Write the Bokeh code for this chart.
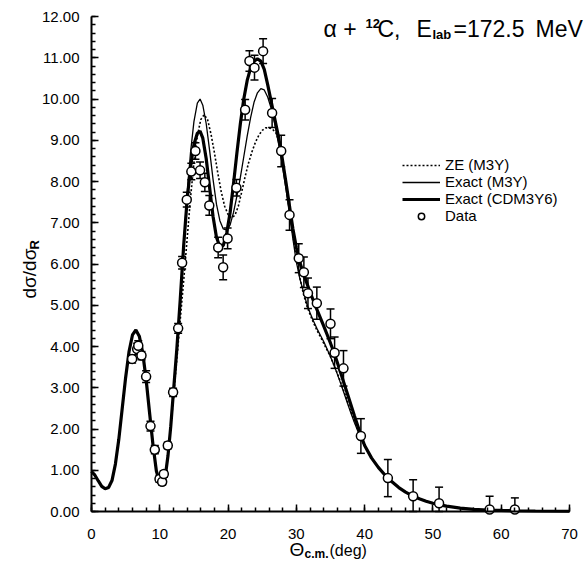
import numpy as np
from bokeh.plotting import figure
from bokeh.models import (Range1d, SingleIntervalTicker, PrintfTickFormatter, Whisker,
                          ColumnDataSource, Label, TeeHead)
from bokeh.embed import file_html
from bokeh.resources import INLINE

# ---------------- data ----------------
shared_angle = [0.0, 0.5, 1.0, 1.5, 2.0, 2.5, 3.0, 3.5, 4.0, 4.5, 5.0, 5.5, 6.0, 6.5, 7.0,
                7.5, 8.0, 8.5, 9.0, 9.5, 10.0, 10.4, 10.8, 11.2, 11.6]
shared_value = [0.97, 0.88, 0.74, 0.61, 0.55, 0.58, 0.75, 1.15, 1.75, 2.50, 3.25, 3.88, 4.28,
                4.40, 4.25, 3.85, 3.20, 2.40, 1.62, 0.98, 0.70, 0.66, 0.85, 1.35, 2.05]

tail_angle = [41.0, 42.0, 43.0, 44.0, 45.0, 46.0, 47.0, 48.0, 49.0, 50.0, 51.0, 52.0, 54.0,
              56.0, 58.0, 60.0, 62.0, 65.0, 70.0]
tail_value = [1.30, 1.07, 0.88, 0.72, 0.58, 0.47, 0.38, 0.31, 0.25, 0.20, 0.16, 0.13, 0.08,
              0.05, 0.035, 0.025, 0.018, 0.012, 0.006]

cdm_angle = [12.0, 12.5, 13.0, 13.5, 14.0, 14.5, 15.0, 15.5, 15.9, 16.3, 16.8, 17.3, 17.8,
             18.3, 18.8, 19.3, 19.8, 20.3, 20.8, 21.3, 21.8, 22.3, 22.8, 23.3, 23.8, 24.3,
             24.8, 25.3, 25.8, 26.3, 26.8, 27.3, 27.8, 28.5, 29.0, 29.5, 30.0, 30.5, 31.0,
             31.5, 32.0, 32.5, 33.0, 33.5, 34.0, 34.5, 35.0, 35.5, 36.0, 36.5, 37.0, 37.5,
             38.0, 38.5, 39.0, 39.5, 40.0]
cdm_value = [2.90, 3.95, 5.15, 6.45, 7.55, 8.35, 8.90, 9.17, 9.22, 9.05, 8.55, 7.85, 7.15,
             6.65, 6.42, 6.45, 6.75, 7.25, 7.95, 8.70, 9.40, 10.00, 10.45, 10.75, 10.92, 10.97,
             10.92, 10.72, 10.35, 9.95, 9.55, 9.15, 8.70, 7.95, 7.40, 6.85, 6.40, 6.05, 5.78,
             5.55, 5.32, 5.11, 4.90, 4.70, 4.50, 4.29, 4.08, 3.86, 3.61, 3.36, 3.10, 2.84,
             2.58, 2.32, 2.07, 1.82, 1.60]

m3y_angle = [12.0, 12.5, 13.0, 13.5, 14.0, 14.5, 15.0, 15.5, 15.9, 16.3, 16.8, 17.3, 17.8,
             18.3, 18.8, 19.3, 19.8, 20.3, 20.8, 21.3, 21.8, 22.3, 22.8, 23.3, 23.8, 24.3,
             24.8, 25.3, 25.8, 26.3, 26.8, 27.3, 27.8, 28.5, 29.0, 29.5, 30.0, 30.5, 31.0,
             31.5, 32.0, 32.5, 33.0, 33.5, 34.0, 34.5, 35.0, 35.5, 36.0, 36.5, 37.0, 37.5,
             38.0, 38.5, 39.0, 39.5, 40.0]
m3y_value = [2.90, 3.95, 5.15, 6.50, 7.70, 8.70, 9.45, 9.90, 10.00, 9.85, 9.40, 8.75, 8.05,
             7.45, 7.05, 6.85, 6.82, 6.95, 7.25, 7.65, 8.10, 8.60, 9.10, 9.55, 9.92, 10.15,
             10.25, 10.22, 10.05, 9.78, 9.42, 9.00, 8.55, 7.80, 7.20, 6.60, 6.05, 5.65, 5.35,
             5.05, 4.82, 4.62, 4.44, 4.28, 4.12, 3.94, 3.75, 3.55, 3.33, 3.10, 2.86, 2.62,
             2.38, 2.16, 1.95, 1.76, 1.58]

ze_angle = [12.0, 12.5, 13.0, 13.5, 14.0, 14.5, 15.0, 15.5, 16.0, 16.5, 17.0, 17.5, 18.0,
            18.5, 19.0, 19.5, 20.0, 20.5, 21.0, 21.5, 22.0, 22.5, 23.0, 23.5, 24.0, 24.5,
            25.0, 25.5, 26.0, 26.5, 27.0, 27.5, 28.0, 28.5, 29.0, 29.5, 30.0, 30.5, 31.0,
            31.5, 32.0, 32.5, 33.0, 34.0, 35.0, 36.0, 37.0, 38.0, 39.0, 40.0]
ze_value = [2.75, 3.70, 4.65, 5.60, 6.60, 7.60, 8.45, 9.10, 9.50, 9.62, 9.50, 9.15, 8.70,
            8.20, 7.75, 7.40, 7.20, 7.12, 7.18, 7.40, 7.75, 8.12, 8.45, 8.72, 8.95, 9.12,
            9.24, 9.30, 9.30, 9.27, 9.18, 8.95, 8.50, 7.90, 7.30, 6.70, 6.15, 5.68, 5.30,
            5.00, 4.78, 4.58, 4.40, 4.08, 3.75, 3.35, 2.90, 2.42, 1.98, 1.60]

data_angle = [5.95, 6.69, 6.85, 7.32, 8.00, 8.64, 9.27, 9.96, 10.35, 10.59, 11.17, 11.95,
              12.69, 13.27, 13.95, 14.62, 15.22, 15.90, 16.60, 17.25, 18.55, 19.28, 19.93,
              21.22, 22.50, 23.13, 23.87, 25.13, 26.45, 27.78, 29.00, 30.35, 31.10, 31.70,
              33.00, 35.00, 35.60, 36.90, 39.45, 43.40, 47.10, 50.90, 58.30, 62.00]
data_value = [3.70, 3.94, 4.02, 3.78, 3.27, 2.07, 1.50, 0.79, 0.72, 0.91, 1.60, 2.89,
              4.44, 6.03, 7.56, 8.24, 8.74, 8.27, 7.98, 7.42, 6.40, 5.92, 6.62,
              7.85, 9.74, 10.92, 10.76, 11.16, 9.66, 8.74, 7.19, 6.14, 5.80, 5.29,
              5.05, 4.55, 3.85, 3.47, 1.83, 0.81, 0.37, 0.20, 0.05, 0.05]
data_error = [0.10, 0.14, 0.12, 0.10, 0.14, 0.12, 0.10, 0.08, 0.08, 0.08, 0.08, 0.10,
              0.12, 0.15, 0.18, 0.20, 0.20, 0.20, 0.22, 0.24, 0.25, 0.30, 0.25,
              0.20, 0.25, 0.25, 0.30, 0.30, 0.35, 0.38, 0.37, 0.35, 0.37, 0.37,
              0.39, 0.36, 0.38, 0.43, 0.42, 0.45, 0.40, 0.39, 0.32, 0.28]

x_axis_bounds = (0, 70)
y_axis_bounds = (0, 12)

FONT = "Liberation Sans"

# placement of the axes box inside the 587 x 571 canvas (pixels)
W, H = 587, 571
BOX_L, BOX_R, BOX_T, BOX_B = 91, 569, 16, 511
kx = (BOX_R - BOX_L) / (x_axis_bounds[1] - x_axis_bounds[0])
ky = (BOX_B - BOX_T) / (y_axis_bounds[1] - y_axis_bounds[0])
x_range = Range1d(x_axis_bounds[0] - BOX_L / kx, x_axis_bounds[1] + (W - BOX_R) / kx)
y_range = Range1d(y_axis_bounds[0] - (H - BOX_B) / ky, y_axis_bounds[1] + BOX_T / ky)

p = figure(width=W, height=H, x_range=x_range, y_range=y_range,
           output_backend="svg", toolbar_location=None,
           min_border_left=0, min_border_right=0, min_border_top=0, min_border_bottom=0)
p.outline_line_color = None
p.xgrid.visible = False
p.ygrid.visible = False
p.background_fill_color = "white"
p.border_fill_color = "white"

p.xaxis.ticker = SingleIntervalTicker(interval=10, num_minor_ticks=5)
p.yaxis.ticker = SingleIntervalTicker(interval=1, num_minor_ticks=5)
p.yaxis.formatter = PrintfTickFormatter(format="%.2f")
p.xaxis.fixed_location = 0
p.yaxis.fixed_location = 0
p.xaxis.bounds = x_axis_bounds
p.yaxis.bounds = y_axis_bounds
for ax in (p.xaxis[0], p.yaxis[0]):
    ax.axis_line_width = 2
    ax.axis_line_color = "black"
    ax.major_tick_in = 7
    ax.major_tick_out = 0
    ax.minor_tick_in = 4
    ax.minor_tick_out = 0
    ax.major_tick_line_width = 1.5
    ax.minor_tick_line_width = 1.5
    ax.major_tick_line_color = "black"
    ax.minor_tick_line_color = "black"
    ax.major_label_text_font = FONT
    ax.major_label_text_font_size = "15px"
    ax.major_label_text_color = "black"
p.xaxis.major_label_standoff = 17
p.yaxis.major_label_standoff = 12

ze_x = shared_angle + ze_angle + tail_angle
ze_y = shared_value + ze_value + tail_value
m3_x = shared_angle + m3y_angle + tail_angle
m3_y = shared_value + m3y_value + tail_value
cd_x = shared_angle + cdm_angle + tail_angle
cd_y = shared_value + cdm_value + tail_value

p.line(ze_x, ze_y, line_color="black", line_width=1.6, line_dash="2 2",
       legend_label="ZE (M3Y)")
p.line(m3_x, m3_y, line_color="black", line_width=1.3, legend_label="Exact (M3Y)")
p.line(cd_x, cd_y, line_color="black", line_width=3.2, legend_label="Exact (CDM3Y6)")

dv = np.array(data_value)
de = np.array(data_error)
src = ColumnDataSource(dict(x=data_angle, y=data_value,
                            lo=np.clip(dv - de, 0, None), hi=dv + de))
wh = Whisker(source=src, base="x", lower="lo", upper="hi", dimension="height",
             line_color="black", line_width=1.5,
             upper_head=TeeHead(size=8, line_width=1.5, line_color="black"),
             lower_head=TeeHead(size=8, line_width=1.5, line_color="black"))
p.add_layout(wh)

p.scatter("x", "y", source=src, size=9, fill_color="white", line_color="black",
          line_width=1.5, legend_label="Data")

lg = p.legend[0]
lg.location = (402, H - 224)
lg.glyph_width = 38
lg.glyph_height = 16
lg.label_height = 16
lg.label_standoff = 5
lg.spacing = 0
lg.padding = 0
lg.margin = 0
lg.border_line_alpha = 0
lg.background_fill_alpha = 0
lg.label_text_font = FONT
lg.label_text_font_size = "15px"
lg.label_text_color = "black"

# ---------------- texts (pixel positions converted to data units) ----------------
def xd(px):
    return x_axis_bounds[0] + (px - BOX_L) / kx

def yd(py):
    return y_axis_bounds[0] + (BOX_B - py) / ky

def add_text(txt, px, py, size, angle=0, style="normal"):
    # (px, py): left end / vertical middle of the text
    p.add_layout(Label(x=xd(px), y=yd(py), text=txt, text_font=FONT,
                       text_font_size=f"{size}px", text_font_style=style,
                       text_color="black", text_baseline="middle",
                       text_align="left", angle=angle))

# title
add_text("α +", 323, 28, 23)
add_text("12", 365, 23, 13, style="bold")
add_text("C,", 377, 28, 23)
add_text("E", 416, 28, 23)
add_text("lab", 432, 34, 13, style="bold")
add_text("=172.5", 453, 28, 23)
add_text("MeV", 535, 28, 23)

# x-axis title
add_text("Θ", 289, 549, 19)
add_text("c.m.", 304, 553, 12, style="bold")
add_text("(deg)", 329, 550, 16)

# y-axis title (rotated, reads bottom to top)
add_text("dσ/dσ", 29, 298, 19, angle=np.pi / 2)
add_text("R", 34, 249, 13, angle=np.pi / 2, style="bold")

open("out.html", "w").write(file_html(p, INLINE))
